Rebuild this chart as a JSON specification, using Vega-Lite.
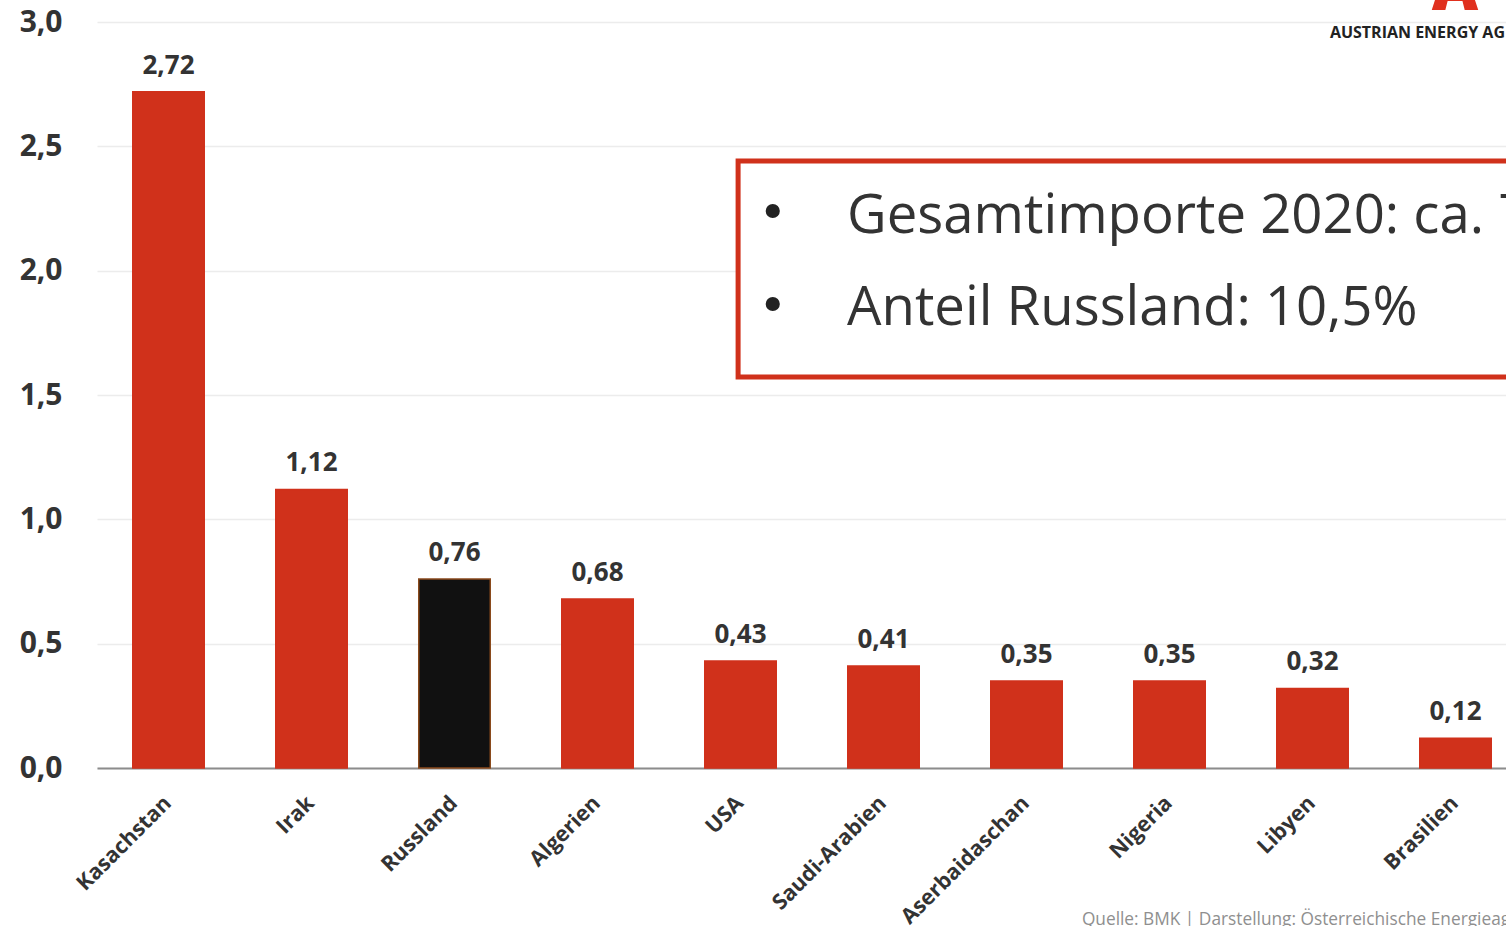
{
  "$schema": "https://vega.github.io/schema/vega-lite/v6.json",
  "width": 1409,
  "height": 746,
  "autosize": {"type": "none"},
  "padding": {"left": 97, "top": 22, "right": 0, "bottom": 158},
  "background": "white",
  "config": {
    "locale": {"number": {"decimal": ",", "thousands": ".", "grouping": [3], "currency": ["", " €"]}},
    "view": {"stroke": null},
    "font": "Open Sans"
  },
  "datasets": {
    "imports": [
      {"land": "Kasachstan", "wert": 2.72, "gruppe": "andere"},
      {"land": "Irak", "wert": 1.12, "gruppe": "andere"},
      {"land": "Russland", "wert": 0.76, "gruppe": "Russland"},
      {"land": "Algerien", "wert": 0.68, "gruppe": "andere"},
      {"land": "USA", "wert": 0.43, "gruppe": "andere"},
      {"land": "Saudi-Arabien", "wert": 0.41, "gruppe": "andere"},
      {"land": "Aserbaidaschan", "wert": 0.35, "gruppe": "andere"},
      {"land": "Nigeria", "wert": 0.35, "gruppe": "andere"},
      {"land": "Libyen", "wert": 0.32, "gruppe": "andere"},
      {"land": "Brasilien", "wert": 0.12, "gruppe": "andere"}
    ],
    "box": [
      {"px": 0.455, "px2": 1.05, "py": 2.441, "py2": 1.572}
    ],
    "bullets": [
      {"px": 0.4796, "py": 2.24},
      {"px": 0.4796, "py": 1.866}
    ],
    "lines": [
      {"px": 0.5323, "py": 2.1514, "text": "Gesamtimporte 2020: ca. 7,2 Mio. t"},
      {"px": 0.5323, "py": 1.7815, "text": "Anteil Russland: 10,5%"}
    ],
    "source": [
      {"px": 0.699, "py": -0.6314, "text": "Quelle: BMK | Darstellung: Österreichische Energieagentur"}
    ],
    "logo": [
      {"px": 0.875, "py": 2.936, "text": "AUSTRIAN ENERGY AG"}
    ],
    "logoA": [
      {"px": 0.9638, "py": 3.048, "text": "A"}
    ]
  },
  "layer": [
    {
      "data": {"name": "imports"},
      "encoding": {
        "x": {
          "field": "land", "type": "nominal", "sort": null,
          "scale": {"paddingInner": 0.5, "paddingOuter": 0.25, "range": [0, 1430]},
          "axis": {
            "title": null, "labelAngle": -45, "labelAlign": "right", "labelBaseline": "top",
            "labelFont": "Open Sans", "labelFontWeight": "bold", "labelFontSize": 21.5,
            "labelColor": "#333333", "labelPadding": 24, "labelOffset": -8, "ticks": false,
            "domainColor": "#8c8c8c", "domainWidth": 2, "grid": false
          }
        },
        "y": {
          "field": "wert", "type": "quantitative",
          "scale": {"domain": [0, 3]},
          "axis": {
            "title": null, "values": [0, 0.5, 1, 1.5, 2, 2.5, 3], "format": ".1f",
            "labelFont": "Open Sans", "labelFontWeight": "bold", "labelFontSize": 30,
            "labelColor": "#333333", "labelPadding": 35, "ticks": false, "domain": false,
            "gridColor": "#ececec", "gridWidth": 1.5
          }
        }
      },
      "layer": [
        {
          "mark": {"type": "bar", "strokeWidth": 1.5},
          "encoding": {
            "color": {
              "field": "gruppe", "type": "nominal",
              "scale": {"domain": ["andere", "Russland"], "range": ["#d0311b", "#111111"]},
              "legend": null
            },
            "stroke": {
              "field": "gruppe", "type": "nominal",
              "scale": {"domain": ["andere", "Russland"], "range": ["#d0311b", "#8a4a1c"]},
              "legend": null
            }
          }
        },
        {
          "mark": {"type": "text", "font": "Open Sans", "fontWeight": "bold", "fontSize": 26, "color": "#333333", "baseline": "alphabetic", "dy": -18},
          "encoding": {
            "text": {"field": "wert", "type": "quantitative", "format": ".2f"}
          }
        }
      ]
    },
    {
      "layer": [
        {
          "data": {"name": "box"},
          "mark": {"type": "rect", "fill": "white", "stroke": "#d0311b", "strokeWidth": 5, "clip": true},
          "encoding": {
            "x": {"field": "px", "type": "quantitative"},
            "x2": {"field": "px2"},
            "y": {"field": "py", "type": "quantitative"},
            "y2": {"field": "py2"}
          }
        },
        {
          "data": {"name": "bullets"},
          "mark": {"type": "point", "shape": "circle", "filled": true, "color": "#222222", "size": 200, "opacity": 1},
          "encoding": {
            "x": {"field": "px", "type": "quantitative"},
            "y": {"field": "py", "type": "quantitative"}
          }
        },
        {
          "data": {"name": "lines"},
          "mark": {"type": "text", "font": "Open Sans", "fontSize": 54.5, "color": "#333333", "align": "left", "baseline": "alphabetic"},
          "encoding": {
            "x": {"field": "px", "type": "quantitative"},
            "y": {"field": "py", "type": "quantitative"},
            "text": {"field": "text"}
          }
        },
        {
          "data": {"name": "source"},
          "mark": {"type": "text", "font": "Open Sans", "fontSize": 17.3, "color": "#8f8f8f", "align": "left", "baseline": "alphabetic"},
          "encoding": {
            "x": {"field": "px", "type": "quantitative"},
            "y": {"field": "py", "type": "quantitative"},
            "text": {"field": "text"}
          }
        },
        {
          "data": {"name": "logo"},
          "mark": {"type": "text", "font": "Open Sans", "fontWeight": "bold", "fontSize": 16, "color": "#222222", "align": "left", "baseline": "alphabetic"},
          "encoding": {
            "x": {"field": "px", "type": "quantitative"},
            "y": {"field": "py", "type": "quantitative"},
            "text": {"field": "text"}
          }
        },
        {
          "data": {"name": "logoA"},
          "mark": {"type": "text", "font": "Open Sans", "fontWeight": 800, "fontSize": 64, "color": "#e0301e", "align": "center", "baseline": "alphabetic"},
          "encoding": {
            "x": {"field": "px", "type": "quantitative"},
            "y": {"field": "py", "type": "quantitative"},
            "text": {"field": "text"}
          }
        }
      ],
      "encoding": {
        "x": {"type": "quantitative", "scale": {"domain": [0, 1]}, "axis": null}
      }
    }
  ],
  "resolve": {"scale": {"x": "independent"}}
}
